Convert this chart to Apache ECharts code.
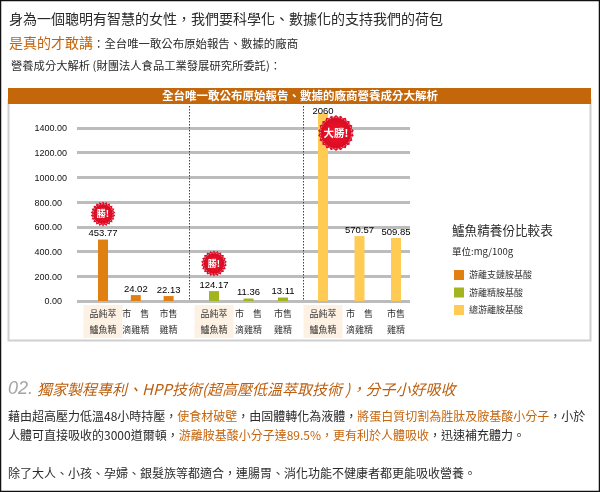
<!DOCTYPE html>
<html><head><meta charset="utf-8">
<style>html,body{margin:0;padding:0;background:#fff}#c{width:600px;height:492px}</style>
<script src="https://cdn.jsdelivr.net/npm/echarts@6/dist/echarts.min.js"></script>
</head><body><div id="c"></div>
<script>
const productNames = ['品純萃\n鱸魚精', '市　售\n滴雞精', '市售\n雞精'];
const yTicksMax = 1521;
// Bar heights as drawn in the picture (the source graphic does not draw them strictly to scale)
const leucineDrawn = [497, 48, 40];
const arginineDrawn = [80, 20, 28];
const totalDrawn = [2060, 525, 510];
// Values printed above the bars
const leucinePrinted = ['453.77', '24.02', '22.13'];
const argininePrinted = ['124.17', '11.36', '13.11'];
const totalPrinted = ['2060', '570.57', '509.85'];
const seriesNames = ['游離支鏈胺基酸', '游離精胺基酸', '總游離胺基酸'];

const CJK = '"Noto Sans CJK TC","Noto Sans",sans-serif';
const LAT = '"Liberation Sans",Arial,sans-serif';
const ORANGE = '#c4640c';
const DARK = '#2a2a2a';

function txt(text, x, y, size, fill, extra) {
  return Object.assign({type: 'text', z: 20, style: Object.assign({
    text, x, y, fill, font: size + 'px ' + CJK, verticalAlign: 'middle', align: 'left'
  }, extra || {})});
}
function seal(cx, cy, r, label, size) {
  const pts = [], teeth = 22;
  for (let i = 0; i < teeth * 2; i++) {
    const a = Math.PI * i / teeth, rr = i % 2 ? r : r - 1.8;
    pts.push([cx + rr * Math.cos(a), cy + rr * Math.sin(a)]);
  }
  return [
    {type: 'polygon', z: 20, shape: {points: pts}, style: {fill: '#d8102a'}},
    {type: 'circle', z: 20, shape: {cx, cy, r: r - 2.5},
      style: {fill: 'none', stroke: '#f7b7bd', lineWidth: 0.8, lineDash: [1.5, 1.5]}},
    {type: 'circle', z: 20, shape: {cx, cy, r: r - 3.2}, style: {fill: {
      type: 'radial', x: 0.5, y: 0.5, r: 0.6,
      colorStops: [{offset: 0, color: '#f0152c'}, {offset: 1, color: '#d60a20'}]}}},
    txt(label, cx, cy, size, '#fff', {align: 'center', font: 'bold ' + size + 'px ' + CJK})
  ];
}
function catAxis(gridIndex) {
  return {
    type: 'category', gridIndex, data: productNames,
    axisLine: {show: false}, axisTick: {show: false},
    axisLabel: {
      interval: 0, margin: 4,
      formatter: (v, i) => v.split('\n').map(l => `{${i === 0 ? 'hl' : 'pl'}|${l}}`).join('\n'),
      rich: {
        hl: {width: 39, height: 16.5, lineHeight: 16.5, align: 'center', backgroundColor: '#fdf1e3',
             fontSize: 9, fontFamily: CJK, color: '#333'},
        pl: {width: 39, height: 16.5, lineHeight: 16.5, align: 'center',
             fontSize: 9, fontFamily: CJK, color: '#333'}
      }
    }
  };
}
function hiddenY(gridIndex) {
  return {type: 'value', gridIndex, min: 0, max: yTicksMax, interval: 200, show: false, splitLine: {show: false}};
}
function barSeries(name, idx, values, printed, color) {
  return {
    name, type: 'bar', xAxisIndex: idx, yAxisIndex: idx, data: values, barWidth: 10,
    itemStyle: {color},
    label: {
      show: true, position: 'top', distance: 1,
      formatter: p => printed[p.dataIndex],
      fontFamily: LAT, fontSize: 9.5, color: '#000'
    },
    labelLayout: p => (values[p.dataIndex] > yTicksMax ? {dy: 4} : {})
  };
}
const rich12 = {a: {fill: DARK, font: '12px ' + CJK}, b: {fill: ORANGE, font: '12px ' + CJK}};
const graphicEls = [
  {type: 'rect', z: 0, shape: {x: 0.5, y: 0.5, width: 599, height: 491}, style: {fill: 'none', stroke: '#111', lineWidth: 1.5}},
  {type: 'rect', z: 0, shape: {x: 8.5, y: 100, width: 582, height: 240.5}, style: {fill: 'none', stroke: '#cfcfcf', lineWidth: 2}},
  {type: 'rect', z: 1, shape: {x: 8, y: 88, width: 583, height: 16}, style: {fill: '#c4660a'}},
  {type: 'line', z: 5, shape: {x1: 189.5, y1: 106, x2: 189.5, y2: 301}, style: {stroke: '#444', lineWidth: 1, lineDash: [1.5, 1.5]}},
  {type: 'line', z: 5, shape: {x1: 303.5, y1: 106, x2: 303.5, y2: 301}, style: {stroke: '#444', lineWidth: 1, lineDash: [1.5, 1.5]}},
  txt('身為一個聰明有智慧的女性\uFF0C我們要科學化、數據化的支持我們的荷包', 9, 19, 14, DARK),
  txt('是真的才敢講', 9, 43, 14, ORANGE),
  txt('\uFF1A全台唯一敢公布原始報告、數據的廠商', 93, 43.5, 11.4, DARK),
  txt('營養成分大解析 (財團法人食品工業發展研究所委託)\uFF1A', 11, 66, 11.3, DARK),
  txt('全台唯一敢公布原始報告、數據的廠商營養成分大解析', 300, 96, 11.5, '#fff', {align: 'center', font: 'bold 11.5px ' + CJK}),
  txt('鱸魚精養份比較表', 452, 230, 12.6, DARK),
  txt('單位:mg/100g', 452, 251, 9.5, DARK),
  txt('02.', 8, 389, 18, '#a5a5a5', {font: 'italic 18px "Liberation Sans",sans-serif'}),
  txt('獨家製程專利、HPP技術(超高壓低溫萃取技術 )\uFF0C分子小好吸收', 37, 389, 15, '#bb5e0e', {font: 'italic 15px ' + CJK}),
  txt('{a|藉由超高壓力低溫48小時持壓\uFF0C}{b|使食材破壁}{a|\uFF0C由固體轉化為液體\uFF0C}{b|將蛋白質切割為胜肽及胺基酸小分子}{a|\uFF0C小於}', 8, 416, 12, DARK, {rich: rich12}),
  txt('{a|人體可直接吸收的3000道爾頓\uFF0C}{b|游離胺基酸小分子達89.5%\uFF0C更有利於人體吸收}{a|\uFF0C迅速補充體力。}', 8, 435, 12, DARK, {rich: rich12}),
  txt('除了大人、小孩、孕婦、銀髮族等都適合\uFF0C連腸胃、消化功能不健康者都更能吸收營養。', 8, 473, 12, DARK)
].concat(seal(103, 214, 12.5, '勝!', 9), seal(214, 263.5, 13, '勝!', 9), seal(336, 133, 18, '大勝!', 10.5));

const chart = echarts.init(document.getElementById('c'), null, {renderer: 'canvas'});
chart.setOption({
  animation: false,
  backgroundColor: '#fff',
  grid: [
    {left: 77, width: 333, top: 113, height: 188},
    {left: 86.6, width: 98.4, top: 113, height: 188},
    {left: 196.75, width: 103.5, top: 113, height: 188},
    {left: 304.75, width: 109.5, top: 113, height: 188}
  ],
  xAxis: [
    {type: 'category', gridIndex: 0, data: [], show: false},
    catAxis(1), catAxis(2), catAxis(3)
  ],
  yAxis: [
    {type: 'value', gridIndex: 0, min: 0, max: yTicksMax, interval: 200,
     axisLine: {show: false}, axisTick: {show: false},
     splitLine: {show: true, showMaxLine: false, lineStyle: {color: '#bcbcbc', width: 3}},
     axisLabel: {showMaxLabel: false, margin: 10, fontFamily: LAT, fontSize: 9, color: '#111',
       formatter: v => v >= 1000 ? `{w|${v.toFixed(2)}}` : `{n|${v.toFixed(2)}}`,
       rich: {w: {fontFamily: LAT, fontSize: 9, color: '#111', padding: [2, 0, 0, 0]},
              n: {fontFamily: LAT, fontSize: 9, color: '#111', padding: [2, 5, 0, 0]}}}},
    hiddenY(1), hiddenY(2), hiddenY(3)
  ],
  legend: {
    left: 454, top: 270, padding: 0, orient: 'vertical', itemWidth: 10, itemHeight: 10, itemGap: 7.5,
    icon: 'rect', selectedMode: false, data: seriesNames,
    textStyle: {fontFamily: CJK, fontSize: 9, color: '#333'}
  },
  series: [
    barSeries(seriesNames[0], 1, leucineDrawn, leucinePrinted, '#e08010'),
    barSeries(seriesNames[1], 2, arginineDrawn, argininePrinted, '#a2b51e'),
    barSeries(seriesNames[2], 3, totalDrawn, totalPrinted, '#ffcb52')
  ],
  graphic: {elements: graphicEls}
});
</script></body></html>
